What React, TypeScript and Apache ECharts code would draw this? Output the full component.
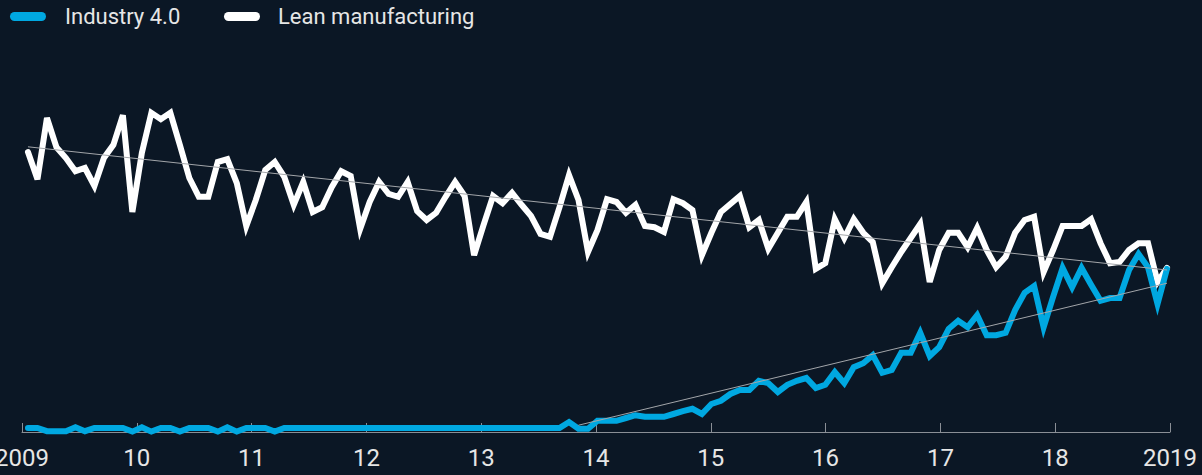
import React, { useEffect, useRef } from "react";
import * as echarts from "echarts";

// Monthly search-interest index, Jan 2009 – Jan 2019 (121 months)
const industry40: number[] = [
  1.0, 1.0, 0.2, 0.2, 0.2, 1.2, 0.2, 1.0, 1.0, 1.0, 1.0, 0.1,
  1.2, 0.1, 1.0, 1.0, 0.1, 1.0, 1.0, 1.0, 0.1, 1.2, 0.1, 1.0,
  1.0, 1.0, 0.1, 1.0, 1.0, 1.0, 1.0, 1.0, 1.0, 1.0, 1.0, 1.0,
  1.0, 1.0, 1.0, 1.0, 1.0, 1.0, 1.0, 1.0, 1.0, 1.0, 1.0, 1.0,
  1.0, 1.0, 1.0, 1.0, 1.0, 1.0, 1.0, 1.0, 1.0, 2.5, 0.8, 0.8,
  2.8, 2.8, 2.8, 3.5, 4.2, 3.8, 3.8, 3.8, 4.5, 5.2, 5.8, 4.5,
  7.0, 7.8, 9.5, 10.5, 10.5, 12.8, 12.2, 10.0, 11.8, 12.8, 13.5, 11.0,
  11.8, 15.0, 12.2, 16.2, 17.2, 19.2, 14.8, 15.5, 19.8, 19.8, 24.8, 19.0,
  21.2, 25.8, 27.8, 26.2, 29.2, 24.2, 24.2, 24.8, 30.5, 34.8, 36.5, 26.2,
  33.8, 41.0, 36.2, 41.0, 36.8, 32.8, 33.5, 33.5, 40.5, 44.5, 41.2, 32.0,
  40.8,
];

const leanManufacturing: number[] = [
  70.0, 63.2, 78.5, 71.2, 68.5, 65.2, 66.0, 61.5, 68.5, 71.8, 79.2, 55.0,
  69.8, 79.8, 78.2, 79.8, 71.8, 63.5, 58.8, 58.8, 67.5, 68.2, 62.2, 51.5,
  58.0, 65.5, 67.5, 63.8, 56.8, 62.5, 55.0, 56.2, 61.2, 65.2, 64.0, 50.8,
  57.5, 62.5, 59.5, 58.8, 62.5, 55.2, 53.0, 54.8, 58.8, 62.5, 59.0, 44.2,
  51.8, 59.0, 57.2, 59.8, 56.8, 54.0, 49.5, 48.8, 56.2, 64.2, 58.0, 45.0,
  50.5, 58.2, 57.5, 54.8, 56.8, 51.5, 51.2, 50.0, 58.2, 57.2, 55.5, 44.2,
  49.8, 55.0, 57.0, 59.0, 51.2, 53.0, 45.8, 49.8, 53.8, 53.8, 57.5, 40.8,
  42.2, 53.2, 48.5, 53.2, 49.8, 47.5, 37.2, 41.2, 45.0, 48.5, 52.0, 37.5,
  45.5, 49.8, 49.8, 46.2, 51.0, 45.5, 41.2, 43.8, 49.8, 53.0, 53.8, 40.0,
  45.5, 51.5, 51.5, 51.5, 53.2, 47.2, 42.2, 42.5, 45.5, 47.2, 47.2, 37.5,
  41.0,
];

// Trend lines: [startMonthIndex, value], [endMonthIndex, value]
const leanTrend: [number, number][] = [[0, 71.3], [120, 40.5]];
const industryTrend: [number, number][] = [[58, 1.7], [120, 37.2]];

const yearTicks: number[] = [2009, 2010, 2011, 2012, 2013, 2014, 2015, 2016, 2017, 2018, 2019];
const legendNames: string[] = ["Industry 4.0", "Lean manufacturing"];

// Month index -> position on the year axis
const FIRST_MONTH_POS = 2009.052;
const MONTH_STEP = 0.082683;
const monthPos = (i: number) => FIRST_MONTH_POS + i * MONTH_STEP;

const BG = "#0b1725";
const BLUE = "#00a8e1";
const WHITE = "#ffffff";
const TEXT = "#e6e6e6";
const AXIS = "#8a8f96";
const TREND = "#a3a6aa";
const FONT = "Roboto, 'Liberation Sans', Arial, sans-serif";

export default function App() {
  const ref = useRef<HTMLDivElement>(null);

  useEffect(() => {
    if (!ref.current) return;
    const chart = echarts.init(ref.current, undefined, { renderer: "svg" });

    const toPairs = (arr: number[]) => arr.map((v, i) => [monthPos(i), v]);
    const trendPairs = (t: [number, number][]) => t.map(([i, v]) => [monthPos(i), v]);

    chart.setOption({
      animation: false,
      backgroundColor: BG,
      grid: {
        left: 22,
        right: 32,
        top: 32,
        bottom: 43,
        containLabel: false,
        outerBoundsMode: "none",
      },
      xAxis: {
        type: "value",
        min: yearTicks[0],
        max: yearTicks[yearTicks.length - 1],
        interval: 1,
        axisLine: { show: true, lineStyle: { color: AXIS, width: 1 } },
        axisTick: { show: true, inside: true, length: 9, lineStyle: { color: AXIS, width: 1 } },
        splitLine: { show: false },
        axisLabel: {
          color: TEXT,
          fontSize: 24,
          fontFamily: FONT,
          margin: 14,
          formatter: (v: number) =>
            v === yearTicks[0] || v === yearTicks[yearTicks.length - 1]
              ? String(v)
              : String(v).slice(2),
        },
      },
      yAxis: {
        type: "value",
        min: 0,
        max: 100,
        show: false,
        splitLine: { show: false },
      },
      series: [
        {
          name: legendNames[1],
          type: "line",
          data: toPairs(leanManufacturing),
          showSymbol: false,
          lineStyle: { color: WHITE, width: 6, join: "miter", cap: "round" },
          z: 2,
        },
        {
          name: legendNames[0],
          type: "line",
          data: toPairs(industry40),
          showSymbol: false,
          lineStyle: { color: BLUE, width: 6, join: "miter", cap: "round" },
          z: 3,
        },
        {
          name: "Lean trend",
          type: "line",
          data: trendPairs(leanTrend),
          showSymbol: false,
          lineStyle: { color: TREND, width: 1 },
          z: 4,
        },
        {
          name: "Industry trend",
          type: "line",
          data: trendPairs(industryTrend),
          showSymbol: false,
          lineStyle: { color: TREND, width: 1 },
          z: 4,
        },
      ],
      graphic: [
        {
          type: "rect",
          shape: { x: 10, y: 12, width: 36, height: 9, r: 4.5 },
          style: { fill: BLUE },
        },
        {
          type: "text",
          x: 65,
          y: 16.5,
          style: {
            text: legendNames[0],
            fill: TEXT,
            fontSize: 22,
            fontFamily: FONT,
            verticalAlign: "middle",
          },
        },
        {
          type: "rect",
          shape: { x: 224, y: 12, width: 36, height: 9, r: 4.5 },
          style: { fill: WHITE },
        },
        {
          type: "text",
          x: 278,
          y: 16.5,
          style: {
            text: legendNames[1],
            fill: TEXT,
            fontSize: 22,
            fontFamily: FONT,
            verticalAlign: "middle",
          },
        },
      ],
    });

    return () => chart.dispose();
  }, []);

  return (
    <div
      ref={ref}
      style={{ position: "fixed", left: 0, top: 0, width: 1202, height: 475, background: BG }}
    />
  );
}
